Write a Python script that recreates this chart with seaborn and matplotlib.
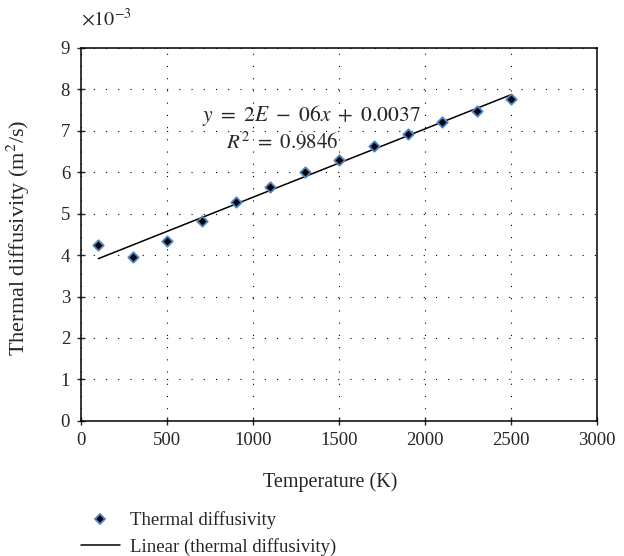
import matplotlib
matplotlib.use("Agg")
import matplotlib.pyplot as plt
from matplotlib.lines import Line2D
import numpy as np
import pandas as pd
import seaborn as sns

temperature = [100, 300, 500, 700, 900, 1100, 1300, 1500, 1700, 1900, 2100, 2300, 2500]
diffusivity = [4.25, 3.95, 4.33, 4.82, 5.27, 5.65, 6.00, 6.30, 6.63, 6.92, 7.22, 7.48, 7.77]  # x 1e-3
x_ticks = [0, 500, 1000, 1500, 2000, 2500, 3000]
y_ticks = [0, 1, 2, 3, 4, 5, 6, 7, 8, 9]

df = pd.DataFrame({"T": temperature, "alpha": diffusivity})

# linear trend through the points
slope, icpt = np.polyfit(df["T"], df["alpha"], 1)
fit = pd.DataFrame({"T": [temperature[0], temperature[-1]]})
fit["alpha"] = slope * fit["T"] + icpt

sns.set_style("ticks")
plt.rcParams['font.family'] = ['Liberation Serif', 'DejaVu Serif']
plt.rcParams['mathtext.fontset'] = 'stix'

fig = plt.figure(figsize=(6.24, 5.56), dpi=100)
ax = fig.add_axes([0.130, 0.243, 0.827, 0.671])

ax.grid(True, linestyle=(0, (1, 10)), color="black", linewidth=0.8)
sns.lineplot(data=fit, x="T", y="alpha", ax=ax, color="black", linewidth=1.1)
sns.scatterplot(data=df, x="T", y="alpha", ax=ax, marker="D", s=28,
                color="black", edgecolor="#4f86c6", linewidth=1.3, zorder=5)

ax.set_xlim(0, 3000)
ax.set_ylim(0, 9)
ax.set_xticks(x_ticks)
ax.set_yticks(y_ticks)
ax.tick_params(direction="inout", length=6, labelsize=13.5, width=1, pad=5)
for s in ax.spines.values():
    s.set_linewidth(1.1)
    s.set_color("black")

ax.set_xlabel("Temperature (K)", fontsize=14.5)
ax.xaxis.set_label_coords(0.483, -0.138)
ax.set_ylabel("Thermal diffusivity (m$^2$/s)", fontsize=16)
ax.yaxis.set_label_coords(-0.095, 0.49)
ax.text(0.0, 1.045, r"$\times10^{-3}$", transform=ax.transAxes, fontsize=14.5,
        ha="left", va="bottom")

ax.text(1337, 7.37, r"$y\ =\ 2E\ -\ 06x\ +\ 0.0037$", fontsize=15.5, ha="center", va="center")
ax.text(1169, 6.74, r"$R^2\ =\ 0.9846$", fontsize=15, ha="center", va="center")

handles = [
    Line2D([], [], marker="D", linestyle="none", markersize=5,
           markerfacecolor="black", markeredgecolor="#4f86c6", markeredgewidth=1.3),
    Line2D([], [], color="black", linewidth=1.1),
]
fig.legend(handles, ["Thermal diffusivity", "Linear (thermal diffusivity)"],
           loc="upper left", bbox_to_anchor=(0.114, 0.097), frameon=False,
           fontsize=13.5, handlelength=2.1, handletextpad=0.55, labelspacing=0.45,
           borderpad=0)

fig.savefig("out.png", dpi=100)
